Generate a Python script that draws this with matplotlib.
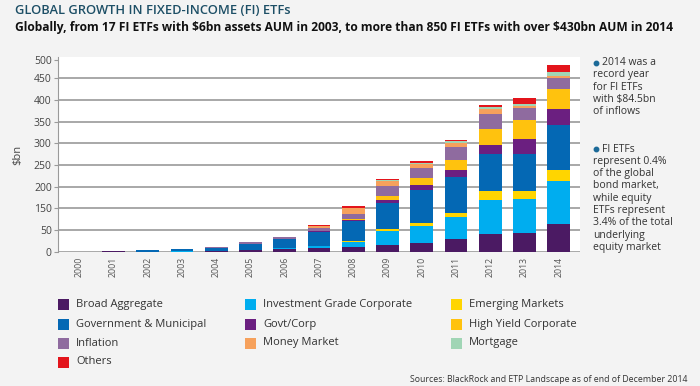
import matplotlib.pyplot as plt
from matplotlib.patches import Rectangle
from matplotlib.lines import Line2D
import numpy as np

# ---- data (in $bn) ----
years = [str(y) for y in range(2000, 2015)]

broad_agg = [0, 1.0, 0, 0, 1.5, 3.5, 5, 8.5, 11, 15.7, 18.9, 28.8, 39.6, 42, 62.7]
ig_corp = [0, 0, 0, 0.3, 0.5, 0.8, 2.3, 3.9, 11.5, 31.6, 39.9, 50.7, 79, 79, 99.8]
emerging = [0, 0, 0, 0, 0, 0, 0.2, 0.5, 2.3, 3.9, 7.6, 9.9, 20.7, 18.4, 25.3]
gov_muni = [0, 0, 3.2, 5.8, 7, 13.5, 21.4, 33, 44.7, 60.6, 75.3, 81.6, 85.2, 86, 103.7]
govt_corp = [0, 0, 0, 0, 0, 0, 0.3, 1, 3, 6.2, 11.5, 16.8, 20.7, 33.8, 38.5]
high_yield = [0, 0, 0, 0, 0, 0, 0.3, 0.5, 2.3, 9.9, 15.4, 23, 38.5, 43.8, 46]
inflation = [0, 0, 0, 0, 1.5, 3.5, 5, 7, 11.5, 23.7, 24.7, 30.6, 34.6, 29.2, 24.4]
money_market = [0, 0, 0, 0, 0, 0, 0, 4, 13.8, 10.4, 8, 9.2, 9.9, 4.6, 4.6]
mortgage = [0, 0, 0, 0, 0, 0, 0, 0.3, 1, 2, 3.5, 3.9, 5.3, 3.8, 9.2]
others = [0, 0, 0, 0, 0, 0, 0, 1.8, 3, 3, 3.5, 3.9, 5.5, 12.9, 15.4]

# stacking order bottom -> top
series = [
    ("Broad Aggregate", broad_agg, "#4b1a63"),
    ("Investment Grade Corporate", ig_corp, "#00adef"),
    ("Emerging Markets", emerging, "#ffd500"),
    ("Government & Municipal", gov_muni, "#0468b4"),
    ("Govt/Corp", govt_corp, "#6b1f80"),
    ("High Yield Corporate", high_yield, "#ffc20e"),
    ("Inflation", inflation, "#8f6b9f"),
    ("Money Market", money_market, "#f6a15c"),
    ("Mortgage", mortgage, "#a0d5b5"),
    ("Others", others, "#e3141b"),
]

# legend layout as in the reference (column-major)
legend_cols = [
    ["Broad Aggregate", "Government & Municipal", "Inflation", "Others"],
    ["Investment Grade Corporate", "Govt/Corp", "Money Market"],
    ["Emerging Markets", "High Yield Corporate", "Mortgage"],
]

# the original axis skips the "100" label
ytick_vals = [0, 50, 100, 150, 200, 250, 300, 350, 400, 441]
ytick_labels = ["0", "50", "150", "200", "250", "300", "350", "400", "450", "500"]

BG = "#f3f3f3"
TEXT = "#333333"
TEAL = "#1d4f66"
BULLET = "#1c6a98"
GRID = "#9a9a9a"

W, H = 700, 386
plt.rcParams["font.family"] = ["Open Sans", "DejaVu Sans"]


def px(x, y):
    return x / W, 1 - y / H


fig = plt.figure(figsize=(W / 100, H / 100), dpi=100)
fig.patch.set_facecolor(BG)

ax = fig.add_axes([58 / W, 1 - 251.5 / H, 522 / W, 194.5 / H])
ax.set_facecolor("white")

x = np.arange(len(years))
bottom = np.zeros(len(years))
colors = {}
for name, vals, col in series:
    v = np.array(vals, dtype=float)
    ax.bar(x, v, width=0.66, bottom=bottom, color=col, linewidth=0, zorder=3)
    bottom += v
    colors[name] = col

ax.set_xlim(-0.62, len(years) - 0.38)
ax.set_ylim(0, 449)
ax.set_yticks(ytick_vals)
ax.set_yticklabels(ytick_labels)
ax.set_xticks(x)
ax.set_xticklabels(years, rotation=90)

ax.yaxis.grid(True, color=GRID, linewidth=1.2, zorder=1)
ax.get_ygridlines()[-1].set_visible(False)
ax.set_axisbelow(True)

for s in ["top", "right", "bottom"]:
    ax.spines[s].set_visible(False)
ax.spines["left"].set_color(GRID)
ax.spines["left"].set_linewidth(0.8)
ax.tick_params(axis="y", length=3, width=0.8, color=GRID, pad=1.5,
               labelsize=7.5, labelcolor="#444444")
ax.tick_params(axis="x", length=0, pad=4, labelsize=6.3, labelcolor="#555555")

# titles
fig.text(*px(15, 10), "GLOBAL GROWTH IN FIXED-INCOME (FI) ETFs", color=TEAL,
         fontsize=9.3, fontweight="semibold", va="center", ha="left")
fig.text(*px(15, 27), "Globally, from 17 FI ETFs with \\$6bn assets AUM in 2003, to more "
         "than 850 FI ETFs with over \\$430bn AUM in 2014", color="#111111",
         fontsize=8.65, fontweight="bold", va="center", ha="left")
fig.text(*px(18, 155), "\\$bn", color="#444444", fontsize=8, rotation=90,
         va="center", ha="center")

# side notes
notes = [
    (62.7, ["2014 was a", "record year", "for FI ETFs", "with \\$84.5bn", "of inflows"]),
    (149, ["FI ETFs", "represent 0.4%", "of the global", "bond market,", "while equity",
           "ETFs represent", "3.4% of the total", "underlying", "equity market"]),
]
for y0, lines in notes:
    bx, by = px(596, y0)
    fig.add_artist(Line2D([bx], [by], marker="o", markersize=3.2, color=BULLET,
                          linestyle="none", transform=fig.transFigure))
    for i, line in enumerate(lines):
        xx = 602 if i == 0 else 593
        fig.text(*px(xx, y0 + i * 12.3), line, color=TEXT, fontsize=7.5,
                 va="center", ha="left")

# legend
col_x = [58, 245, 451]
row_y = [304, 324, 343, 362]
for cx, names in zip(col_x, legend_cols):
    for ry, name in zip(row_y, names):
        fig.add_artist(Rectangle(px(cx, ry + 5.5), 11 / W, 11 / H, transform=fig.transFigure,
                                 facecolor=colors[name], edgecolor="none"))
        fig.text(*px(cx + 18, ry), name, color=TEXT, fontsize=8, va="center", ha="left")

fig.text(*px(688, 380), "Sources: BlackRock and ETP Landscape as of end of December 2014",
         color=TEXT, fontsize=6.3, va="center", ha="right")

fig.savefig("out.png", dpi=100, facecolor=BG)
